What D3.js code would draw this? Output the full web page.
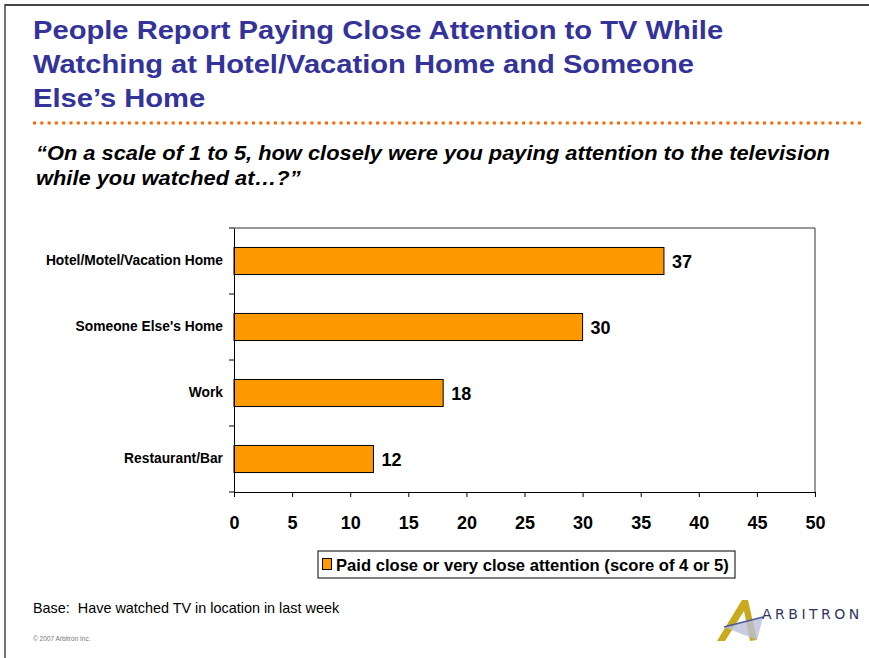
<!DOCTYPE html>
<html><head><meta charset="utf-8">
<script src="https://cdn.jsdelivr.net/npm/d3@7"></script>
<style>
body{margin:0;background:#fff;}
svg{display:block;font-family:"Liberation Sans",Arial,sans-serif;}
</style></head>
<body>
<svg id="chart" width="869" height="658"></svg>
<script>
const categories = ["Hotel/Motel/Vacation Home", "Someone Else's Home", "Work", "Restaurant/Bar"];
const values = [37, 30, 18, 12];
const xTicks = [0, 5, 10, 15, 20, 25, 30, 35, 40, 45, 50];
const titleLines = ["People Report Paying Close Attention to TV While", "Watching at Hotel/Vacation Home and Someone", "Else\u2019s Home"];
const subtitleLines = ["\u201COn a scale of 1 to 5, how closely were you paying attention to the television", "while you watched at\u2026?\u201D"];
const legendLabel = "Paid close or very close attention (score of 4 or 5)";
const baseNote = "Base:  Have watched TV in location in last week";
const copyright = "\u00A9 2007 Arbitron Inc.";

const svg = d3.select("#chart");

// slide frame
svg.append("line").attr("x1",5).attr("x2",869).attr("y1",5).attr("y2",5).attr("stroke","#444").attr("stroke-width",2);
svg.append("line").attr("x1",5).attr("x2",5).attr("y1",4).attr("y2",658).attr("stroke","#444").attr("stroke-width",1.5);

// title
svg.append("g").selectAll("text").data(titleLines).join("text")
  .attr("transform",(d,i)=>`translate(33,${39+i*34.2}) scale(1.1,1)`)
  .attr("fill","#333399").attr("font-weight","bold").attr("font-size",26.5)
  .text(d=>d);

// dotted rule
const dots = d3.range(33, 859, 7.3);
svg.append("g").selectAll("rect").data(dots).join("rect")
  .attr("x",d=>d).attr("y",121.5).attr("width",3).attr("height",3).attr("fill","#FF6600");

// subtitle
svg.append("g").selectAll("text").data(subtitleLines).join("text")
  .attr("transform",(d,i)=>`translate(36,${160+i*25}) scale(1.093,1)`)
  .attr("fill","#000").attr("font-weight","bold").attr("font-style","italic").attr("font-size",20)
  .text(d=>d);

// chart
const m = {left:234, right:815, top:228, bottom:492};
const x = d3.scaleLinear().domain([0,50]).range([m.left, m.right]);
const y = d3.scaleBand().domain(categories).range([m.top, m.bottom]).paddingInner(0.59).paddingOuter(0.295);

// plot frame top/right
svg.append("path").attr("d",`M${m.left},${m.top}H${m.right}V${m.bottom}`).attr("fill","none").attr("stroke","#333").attr("stroke-width",1);

// bars
svg.append("g").selectAll("rect").data(values).join("rect")
  .attr("x",x(0)).attr("y",(d,i)=>y(categories[i]))
  .attr("width",d=>x(d)-x(0)).attr("height",y.bandwidth())
  .attr("fill","#FF9900").attr("stroke","#000").attr("stroke-width",1);

// value labels
svg.append("g").selectAll("text").data(values).join("text")
  .attr("x",d=>x(d)+8).attr("y",(d,i)=>y(categories[i])+y.bandwidth()/2+0.5)
  .attr("dy","0.36em").attr("font-weight","bold").attr("font-size",18)
  .text(d=>d);

// x axis
const xAxis = svg.append("g").attr("transform",`translate(0,${m.bottom})`)
  .call(d3.axisBottom(x).tickValues(xTicks).tickSize(5).tickPadding(19).tickSizeOuter(0));
xAxis.select(".domain").attr("stroke","#000");
xAxis.selectAll(".tick line").attr("stroke","#000");
xAxis.selectAll(".tick text").attr("font-size",18).attr("font-weight","bold").attr("fill","#000")
  .attr("font-family","Liberation Sans, Arial, sans-serif");

// y axis
const yAxis = svg.append("g").attr("transform",`translate(${m.left},0)`)
  .call(d3.axisLeft(y).tickSize(0).tickPadding(11));
yAxis.select(".domain").attr("stroke","#000");
yAxis.selectAll(".tick text").attr("font-size",13.8).attr("font-weight","bold").attr("fill","#000")
  .attr("font-family","Liberation Sans, Arial, sans-serif");
svg.append("g").selectAll("line").data(d3.range(0, categories.length+1)).join("line")
  .attr("x1",m.left-5).attr("x2",m.left)
  .attr("y1",i=>m.top + i*(m.bottom-m.top)/categories.length)
  .attr("y2",i=>m.top + i*(m.bottom-m.top)/categories.length)
  .attr("stroke","#000");

// legend
const lg = svg.append("g");
lg.append("rect").attr("x",318).attr("y",551).attr("width",417).attr("height",27).attr("fill","#fff").attr("stroke","#000");
lg.append("rect").attr("x",322.5).attr("y",558.5).attr("width",9).attr("height",11).attr("fill","#FF9900").attr("stroke","#000");
lg.append("text").attr("x",336).attr("y",570.5).attr("font-weight","bold").attr("font-size",16.6).text(legendLabel);

// footnotes
svg.append("text").attr("x",33).attr("y",613).attr("font-size",14.4).attr("fill","#000")
  .style("white-space","pre").text(baseNote);
svg.append("text").attr("x",33).attr("y",641).attr("font-size",6.5).attr("fill","#777").text(copyright);

// logo
const logo = svg.append("g");
logo.append("path").attr("d","M717,641 L742,600 L748,600 L757,640 L750,641 L744,611 L725,641 Z").attr("fill","#C8AA1E");
logo.append("path").attr("d","M724,627 L763,617 L757,640 Z").attr("fill","#B9BFD9").attr("opacity",0.8);
logo.append("path").attr("d","M724,627 L763,617").attr("stroke","#4A5A9A").attr("stroke-width",1.5);
logo.append("text").attr("x",762).attr("y",619).attr("font-size",14).attr("letter-spacing",3.5)
  .attr("fill","#2E3560").attr("font-family","DejaVu Sans, sans-serif").text("ARBITRON");
</script>
</body></html>
